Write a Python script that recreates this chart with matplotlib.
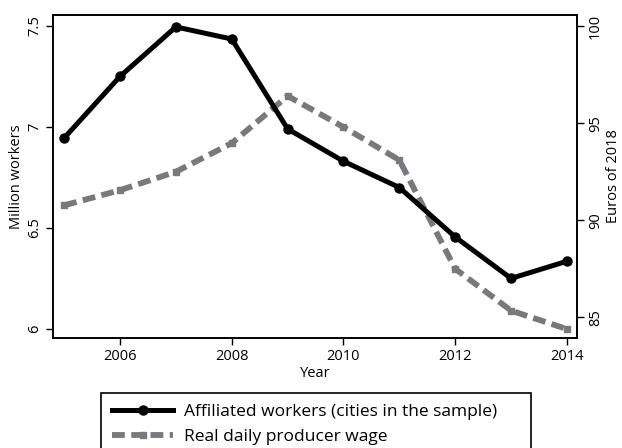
import matplotlib
matplotlib.use("Agg")
import matplotlib.pyplot as plt

plt.rcParams['font.family'] = ['Open Sans', 'DejaVu Sans']

years = [2005, 2006, 2007, 2008, 2009, 2010, 2011, 2012, 2013, 2014]
workers = [6.945, 7.25, 7.495, 7.435, 6.99, 6.83, 6.70, 6.455, 6.25, 6.335]
wage = [90.77, 91.55, 92.5, 93.97, 96.4, 94.8, 93.1, 87.5, 85.35, 84.4]

xticks = [2006, 2008, 2010, 2012, 2014]
left_ticks = [6, 6.5, 7, 7.5]
left_labels = ["6", "6.5", "7", "7.5"]
right_ticks = [85, 90, 95, 100]

fig = plt.figure(figsize=(6.22, 4.48), dpi=100)
ax = fig.add_axes([53/622, 1-338/448, (577-53)/622, (338-15)/448])
ax2 = ax.twinx()

gray = "#77797c"
l2, = ax2.plot(years, wage, color=gray, lw=4.2, ls=(0, (2.2, 1.1)),
               marker='s', ms=5, solid_capstyle='butt', dash_capstyle='butt')
l1, = ax.plot(years, workers, color='black', lw=3.6, marker='o', ms=6.5)
ax.set_zorder(ax2.get_zorder() + 1)
ax.patch.set_visible(False)

ax.set_xlim(2004.8, 2014.18)
ax.set_ylim(5.955, 7.554)
ax2.set_ylim(83.94, 100.57)

ax.set_xticks(xticks)
ax.set_yticks(left_ticks)
ax.set_yticklabels(left_labels, rotation=90, va='center')
ax2.set_yticks(right_ticks)
ax2.set_yticklabels([str(t) for t in right_ticks], rotation=90, va='center')

for a in (ax, ax2):
    a.tick_params(labelsize=10.5, length=5, width=1, direction='out', pad=3)
    for s in a.spines.values():
        s.set_linewidth(1.2)

ax.set_xlabel("Year", fontsize=10.5, labelpad=1)
ax.set_ylabel("Million workers", fontsize=10.5, labelpad=2)
ax2.set_ylabel("Euros of 2018", fontsize=10.5, labelpad=2)

leg = fig.legend([l1, l2], ["Affiliated workers (cities in the sample)", "Real daily producer wage"],
                 loc='upper left', bbox_to_anchor=(101/622, 1-393/448, 430/622, 0.0),
                 mode='expand', fontsize=12.5, frameon=True, fancybox=False,
                 edgecolor='black', framealpha=1, handlelength=3.5, handletextpad=0.65,
                 borderpad=0.65, labelspacing=0.5, borderaxespad=0)
leg.get_frame().set_linewidth(1.2)

fig.savefig("out.png", dpi=100)
